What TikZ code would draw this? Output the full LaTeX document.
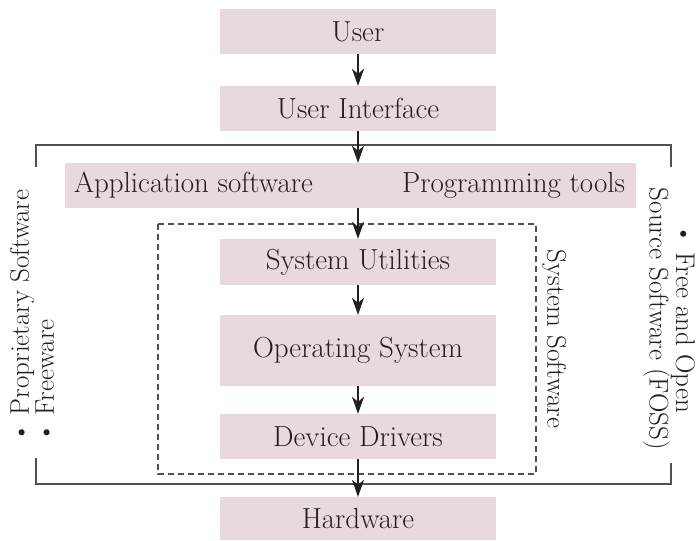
\documentclass[tikz,border=0pt]{standalone}
\usepackage{xcolor}
\usetikzlibrary{arrows.meta,positioning}
\definecolor{layerpink}{RGB}{232,217,222}
\definecolor{inkgray}{RGB}{35,31,32}
\definecolor{rulegray}{RGB}{80,80,80}

\begin{document}
\begin{tikzpicture}[x=1pt,y=-1pt,
    font=\fontsize{27}{21}\selectfont,
    layer/.style={fill=layerpink,minimum width=276pt,minimum height=45pt,inner sep=0pt,text=inkgray,
      font=\fontsize{29}{30}\selectfont},
    flow/.style={-{Stealth[length=17pt,width=12pt,inset=5pt]},line width=1.2pt,draw=inkgray},
    frame/.style={line width=1.3pt,draw=rulegray},
    side/.style={text=inkgray,inner sep=0pt}]
  \useasboundingbox (0,0) rectangle (700,540);
  % layers
  \node[layer] (user) at (358,31.5) {User};
  \node[layer] (ui) at (358,108.5) {User Interface};
  \node[layer,minimum width=571pt] (app) at (350.5,185.5) {};
  \node[side,anchor=west,font=\fontsize{29}{30}\selectfont] (apps) at ([xshift=9pt]app.west) {Application software};
  \node[side,anchor=east,font=\fontsize{29}{30}\selectfont] (tools) at ([xshift=-11pt]app.east) {Programming tools};
  \node[layer,minimum height=46pt] (utils) at (358,262) {System Utilities};
  \node[layer,minimum height=71pt] (os) at (358,350.5) {Operating System};
  \node[layer] (drivers) at (358,436.5) {Device Drivers};
  \node[layer,minimum height=43pt] (hw) at (358,518.5) {Hardware};
  % software bracket and system box
  \draw[frame] (36,167) -- (36,145) -- (671,145) -- (671,167);
  \draw[frame] (36,458) -- (36,484) -- (671,484) -- (671,463);
  \draw[line width=1.2pt,draw=rulegray,dash pattern=on 6pt off 4pt] (158,224) rectangle (536,474);
  % side labels
  \node[side,rotate=90,align=left,anchor=west] (closed) at (32,443)
    {\textbullet\ Proprietary Software\\\textbullet\ Freeware};
  \node[side,rotate=-90,align=center] (open) at (669,319)
    {\textbullet\ Free and Open\\Source Software (FOSS)};
  \node[side,rotate=-90] (sys) at (554,339) {System Software};
  % flow
  \draw[flow] (user) -- (ui);
  \draw[flow] (ui) -- (ui |- app.north);
  \draw[flow] (utils |- app.south) -- (utils);
  \draw[flow] (utils) -- (os);
  \draw[flow] (os) -- (drivers);
  \draw[flow] (drivers) -- (hw);
\end{tikzpicture}
\end{document}
